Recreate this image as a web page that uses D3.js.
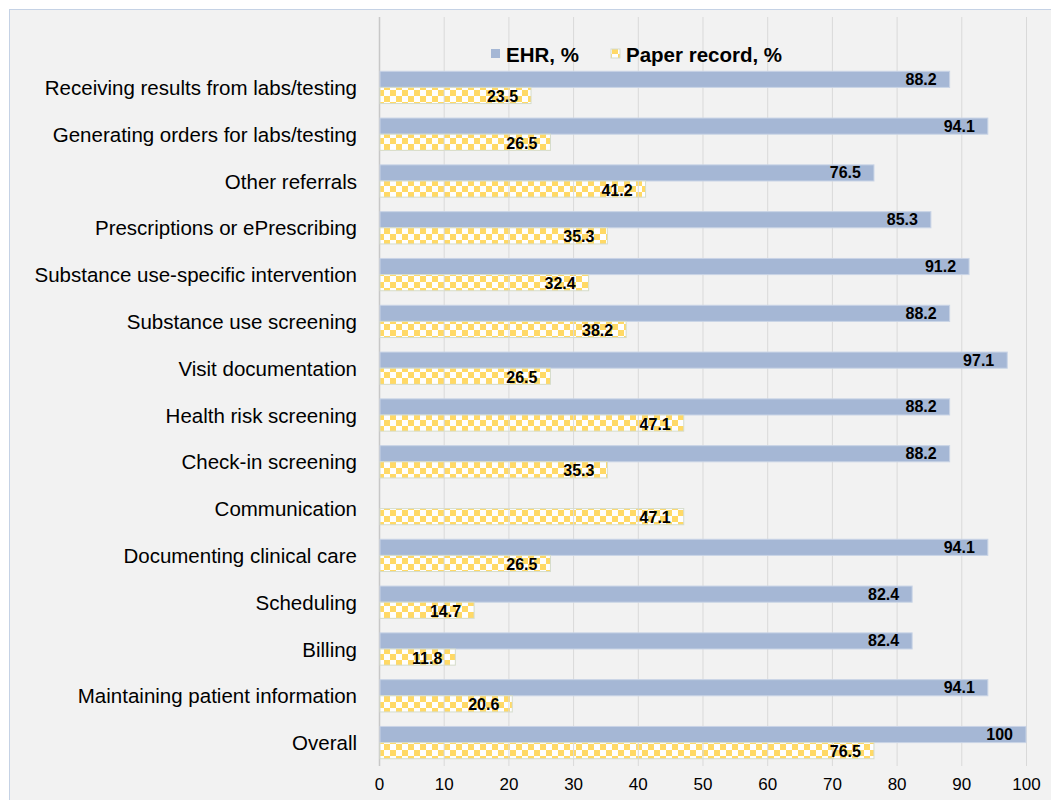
<!DOCTYPE html>
<html>
<head>
<meta charset="utf-8">
<script src="https://cdn.jsdelivr.net/npm/d3@7"></script>
<style>
  html, body { margin: 0; padding: 0; background: #ffffff; }
  svg { display: block; font-family: "Liberation Sans", Arial, sans-serif; }
</style>
</head>
<body>
<svg id="chart" width="1051" height="800"></svg>
<script>
// Uses of electronic vs. paper records, by task (percent of sites)
const categories = [
  "Receiving results from labs/testing",
  "Generating orders for labs/testing",
  "Other referrals",
  "Prescriptions or ePrescribing",
  "Substance use-specific intervention",
  "Substance use screening",
  "Visit documentation",
  "Health risk screening",
  "Check-in screening",
  "Communication",
  "Documenting clinical care",
  "Scheduling",
  "Billing",
  "Maintaining patient information",
  "Overall"
];
const ehrValues = [88.2, 94.1, 76.5, 85.3, 91.2, 88.2, 97.1, 88.2, 88.2, null, 94.1, 82.4, 82.4, 94.1, 100];
const paperValues = [23.5, 26.5, 41.2, 35.3, 32.4, 38.2, 26.5, 47.1, 35.3, 47.1, 26.5, 14.7, 11.8, 20.6, 76.5];
const seriesNames = ["EHR, %", "Paper record, %"];
const xTicks = [0, 10, 20, 30, 40, 50, 60, 70, 80, 90, 100];

const svg = d3.select("#chart");
const W = 1051, H = 800;

// chart background and frame
svg.append("rect").attr("x", 0).attr("y", 0).attr("width", W).attr("height", H).attr("fill", "#ffffff");
svg.append("rect").attr("x", 9.5).attr("y", 9.5).attr("width", W + 10).attr("height", H + 10)
  .attr("fill", "#f2f2f2").attr("stroke", "#c5d2e5").attr("stroke-width", 1);

// checkerboard fill for the paper-record bars
const defs = svg.append("defs");
const pat = defs.append("pattern").attr("id", "checker").attr("patternUnits", "userSpaceOnUse")
  .attr("width", 12).attr("height", 12);
pat.append("rect").attr("width", 12).attr("height", 12).attr("fill", "#ffffff").attr("fill-opacity", 0.9);
pat.append("rect").attr("x", 0).attr("y", 0).attr("width", 6).attr("height", 6).attr("fill", "#ffd966");
pat.append("rect").attr("x", 6).attr("y", 6).attr("width", 6).attr("height", 6).attr("fill", "#ffd966");

const plotLeft = 379, plotRight = 1026, gridTop = 17, bandTop = 64, plotBottom = 766;

const x = d3.scaleLinear().domain([0, 100]).range([plotLeft, plotRight]);
const y = d3.scaleBand().domain(categories).range([bandTop, plotBottom]).paddingInner(0.31).paddingOuter(0.155);
const sub = d3.scaleBand().domain(seriesNames).range([0, y.bandwidth()]).padding(0);

// vertical gridlines
const grid = svg.append("g");
grid.selectAll("line").data(xTicks).join("line")
  .attr("x1", d => x(d) + 0.5).attr("x2", d => x(d) + 0.5)
  .attr("y1", gridTop).attr("y2", plotBottom)
  .attr("stroke", d => d === 0 ? "#c8c8c8" : "#d9d9d9").attr("stroke-width", d => d === 0 ? 1.5 : 1);

const rows = categories.map((c, i) => ({ cat: c, ehr: ehrValues[i], paper: paperValues[i] }));

// EHR bars
svg.append("g").selectAll("rect").data(rows.filter(d => d.ehr != null)).join("rect")
  .attr("x", x(0) + 1)
  .attr("y", d => y(d.cat) + sub(seriesNames[0]))
  .attr("width", d => x(d.ehr) - x(0) - 1)
  .attr("height", sub.bandwidth())
  .attr("fill", "#a5b7d5").attr("stroke", "#c9d4e6").attr("stroke-width", 1);

// paper bars
svg.append("g").selectAll("rect").data(rows).join("rect")
  .attr("x", x(0) + 1)
  .attr("y", d => y(d.cat) + sub(seriesNames[1]))
  .attr("width", d => x(d.paper) - x(0) - 1)
  .attr("height", sub.bandwidth())
  .attr("fill", "url(#checker)").attr("stroke", "#d5dccb").attr("stroke-width", 1);

// gridlines faintly through the patterned bars
svg.append("g").selectAll("line").data(rows.flatMap(r => xTicks.filter(t => t > 0 && t < r.paper).map(t => ({ r, t }))))
  .join("line")
  .attr("x1", d => x(d.t) + 0.5).attr("x2", d => x(d.t) + 0.5)
  .attr("y1", d => y(d.r.cat) + sub(seriesNames[1]))
  .attr("y2", d => y(d.r.cat) + sub(seriesNames[1]) + sub.bandwidth())
  .attr("stroke", "#d9d9d9").attr("stroke-width", 1);

// value labels at the inside end of each bar
const lbl = svg.append("g").attr("font-size", 16).attr("font-weight", "bold").attr("fill", "#000")
  .attr("text-anchor", "end").attr("dominant-baseline", "central");
lbl.selectAll("text.ehr").data(rows.filter(d => d.ehr != null)).join("text").attr("class", "ehr")
  .attr("x", d => x(d.ehr) - 13)
  .attr("y", d => y(d.cat) + sub(seriesNames[0]) + sub.bandwidth() / 2)
  .text(d => d3.format(".1f")(d.ehr).replace(/\.0$/, ""));
lbl.selectAll("text.paper").data(rows).join("text").attr("class", "paper")
  .attr("x", d => x(d.paper) - 13)
  .attr("y", d => y(d.cat) + sub(seriesNames[1]) + sub.bandwidth() / 2 + 1)
  .text(d => d3.format(".1f")(d.paper));

// category labels
svg.append("g").attr("font-size", 20.5).attr("fill", "#000").attr("text-anchor", "end")
  .attr("dominant-baseline", "central")
  .selectAll("text").data(categories).join("text")
  .attr("x", 357).attr("y", d => y(d) + y.bandwidth() / 2)
  .text(d => d);

// x axis tick labels
const xAxis = d3.axisBottom(x).tickValues(xTicks).tickSize(0).tickPadding(0);
const ax = svg.append("g").attr("transform", `translate(0, ${778})`).call(xAxis);
ax.select(".domain").remove();
ax.selectAll("text").attr("font-size", 17).attr("fill", "#000")
  .attr("font-family", "Liberation Sans, Arial, sans-serif").attr("dy", "0.71em");

// legend
const legend = svg.append("g").attr("font-size", 20.5).attr("font-weight", "bold");
const legItems = [
  { name: seriesNames[0], x: 491, fill: "#a5b7d5", stroke: "none" },
  { name: seriesNames[1], x: 611, fill: "url(#checker)", stroke: "#d5dccb" }
];
legItems.forEach(it => {
  legend.append("rect").attr("x", it.x).attr("y", 49).attr("width", 9).attr("height", 9)
    .attr("fill", it.fill).attr("stroke", it.stroke);
  legend.append("text").attr("x", it.x + 15).attr("y", 54).attr("dominant-baseline", "central")
    .text(it.name);
});
</script>
</body>
</html>
